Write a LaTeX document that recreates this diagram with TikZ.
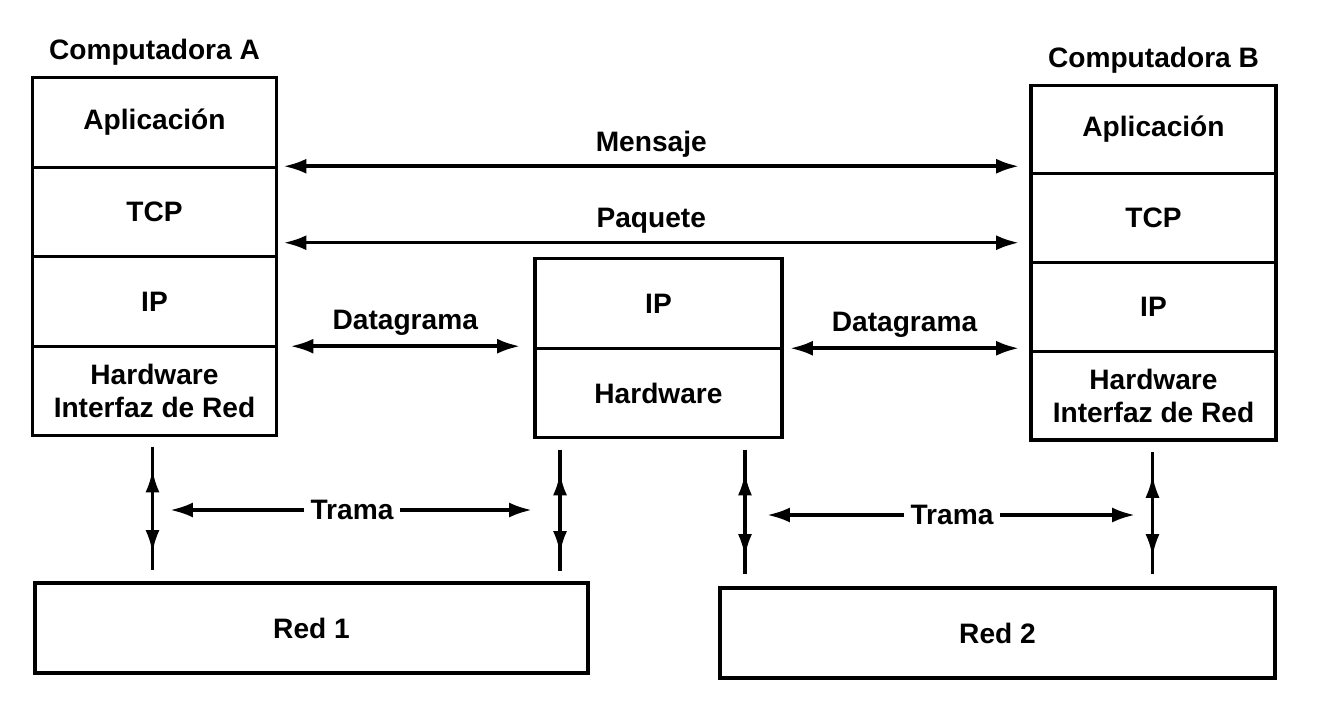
\documentclass[tikz,border=0pt]{standalone}
\usepackage{fontspec}
\setmainfont{Liberation Sans}
\usetikzlibrary{positioning, arrows.meta, calc, decorations.markings}

\begin{document}
\begin{tikzpicture}[
      x=0.02cm, y=-0.02cm,
      every node/.style={font=\bfseries\fontsize{16}{19}\selectfont},
      layerbox/.style={draw, line width=1.8pt, outer sep=0pt, minimum width=4.88cm, minimum height=1.79cm, align=center, inner sep=2pt},
      redbox/.style={draw, line width=1.8pt, minimum width=11.06cm, minimum height=1.8cm},
      flow/.style={line width=2pt, {Latex[length=13pt,width=8.5pt]}-{Latex[length=13pt,width=8.5pt]}},
      oneway/.style={line width=2pt, -{Latex[length=13pt,width=8.5pt]}},
      vflow/.style={line width=2pt, postaction={decorate},
        decoration={markings,
          mark=at position 13pt with {\arrowreversed{Latex[length=13pt,width=8pt]}},
          mark=at position -10pt with {\arrow{Latex[length=13pt,width=8pt]}}}},
    ]
    \useasboundingbox (0,0) rectangle (1332,711);

    % Computadora A
    \node[layerbox] (appA) at (154.5,122.5) {Aplicación};
    \node[layerbox, below=0pt of appA] (tcpA) {TCP};
    \node[layerbox, below=0pt of tcpA] (ipA) {IP};
    \node[layerbox, below=0pt of ipA] (hwA) {Hardware\\Interfaz de Red};
    \node[above=0.12cm of appA] (compA) {Computadora A};

    % Computadora B
    \node[layerbox, minimum width=4.9cm, minimum height=1.775cm] (appB) at (1153.5,129.5) {Aplicación};
    \node[layerbox, minimum width=4.9cm, minimum height=1.775cm, below=0pt of appB] (tcpB) {TCP};
    \node[layerbox, minimum width=4.9cm, minimum height=1.775cm, below=0pt of tcpB] (ipB) {IP};
    \node[layerbox, minimum width=4.9cm, minimum height=1.775cm, below=0pt of ipB] (hwB) {Hardware\\Interfaz de Red};
    \node[above=0.12cm of appB] (compB) {Computadora B};

    % router
    \node[layerbox, minimum width=4.94cm] (ipR) at (658.5,303.5) {IP};
    \node[layerbox, minimum width=4.94cm, below=0pt of ipR] (hwR) {Hardware};

    % redes
    \node[redbox] (red1) at (311.5,628) {Red 1};
    \node[redbox, minimum width=11.1cm] (red2) at (997.5,633) {Red 2};

    % capas
    \draw[flow] ($(appA.south east)+(7,-1)$) -- ($(appB.west |- appA.south)+(-12,-1)$)
      node[midway, above=1pt] {Mensaje};
    \draw[flow] ($(tcpA.south east)+(7,-14)$) -- ($(tcpB.west |- tcpA.south)+(-12,-14)$)
      node[midway, above=1pt] {Paquete};
    \draw[flow] ($(ipA.south east)+(14,0)$) -- ($(ipR.west |- ipA.south)+(-15,0)$)
      node[midway, above=2pt] {Datagrama};
    \draw[flow] ($(ipR.south east)+(8,0)$) -- ($(ipB.west |- ipR.south)+(-12,0)$)
      node[midway, above=2pt] {Datagrama};

    % hacia las redes
    \draw[vflow] ($(hwA.south)+(-2,11)$) -- ($(hwA.south |- red1.north)+(-2,-11)$);
    \draw[vflow] ($(hwR.south west)+(25,12)$) -- ($(hwR.south west |- red1.north)+(25,-10)$);
    \draw[vflow] ($(hwR.south east)+(-37,12)$) -- ($(hwR.south east |- red2.north)+(-37,-12)$);
    \draw[vflow] ($(hwB.south)+(-1,12)$) -- ($(hwB.south |- red2.north)+(-1,-12)$);

    % tramas
    \node (trama1) at (352,510) {Trama};
    \coordinate (t1l) at (170,510);
    \coordinate (t1r) at (532,510);
    \draw[oneway] (trama1.west) -- (t1l);
    \draw[oneway] (trama1.east) -- (t1r);
    \node (trama2) at (952,515) {Trama};
    \coordinate (t2l) at (767,515);
    \coordinate (t2r) at (1135,515);
    \draw[oneway] (trama2.west) -- (t2l);
    \draw[oneway] (trama2.east) -- (t2r);
  \end{tikzpicture}
\end{document}
